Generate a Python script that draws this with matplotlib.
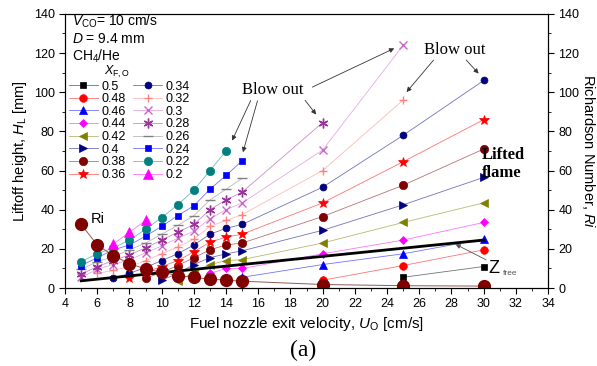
import matplotlib
matplotlib.use("Agg")
import matplotlib.pyplot as plt
from matplotlib.colors import to_rgb
from matplotlib.ticker import MultipleLocator

plt.rcParams['font.family'] = ['Liberation Sans', 'DejaVu Sans']
plt.rcParams['mathtext.fontset'] = 'custom'
plt.rcParams['mathtext.rm'] = 'Liberation Sans'
plt.rcParams['mathtext.it'] = 'Liberation Sans:italic'

# ------------------------------------------------------------
# Data (liftoff height H_L in mm)
# ------------------------------------------------------------
x_050 = [25, 30]
h_050 = [5.5, 11]
x_048 = [20, 25, 30]
h_048 = [4, 11.5, 19.5]
x_046 = [15, 20, 25, 30]
h_046 = [5.5, 12, 17.5, 25]
x_044 = [13, 14, 15, 20, 25, 30]
h_044 = [7.5, 10, 10, 17.5, 24.5, 33.5]
x_042 = [11, 12, 13, 14, 15, 20, 25, 30]
h_042 = [3.5, 8, 12, 14, 14.5, 23, 33.5, 43.5]
x_040 = [10, 11, 12, 13, 14, 15, 20, 25, 30]
h_040 = [4, 7.5, 12, 15.5, 17.5, 19, 29.5, 42.5, 56.5]
x_038 = [9, 10, 11, 12, 13, 14, 15, 20, 25, 30]
h_038 = [5, 8, 11.5, 15.5, 19.5, 22, 23, 36.5, 52.5, 71]
x_036 = [8, 9, 10, 11, 12, 13, 14, 15, 20, 25, 30]
h_036 = [5, 8, 11, 14, 18.5, 23.5, 26, 27.5, 43.5, 64.5, 86]
x_034 = [7, 8, 9, 10, 11, 12, 13, 14, 15, 20, 25, 30]
h_034 = [5, 7.5, 10.5, 14, 17.5, 22, 27.5, 30.5, 32.5, 51.5, 78, 106]
x_032 = [6, 7, 8, 9, 10, 11, 12, 13, 14, 15, 20, 25]
h_032 = [7.5, 9, 11, 14, 17.5, 21, 25, 31.5, 34.5, 37.5, 60, 96]
x_030 = [5, 6, 7, 8, 9, 10, 11, 12, 13, 14, 15, 20, 25]
h_030 = [5.5, 9.5, 12, 14.5, 18, 21.5, 25.5, 29, 35.5, 40, 43.5, 70.5, 124]
x_028 = [5, 6, 7, 8, 9, 10, 11, 12, 13, 14, 15, 20]
h_028 = [7, 11, 14, 17, 20.5, 24.5, 28.5, 32.5, 40, 45, 49, 84.5]
x_026 = [5, 6, 7, 8, 9, 10, 11, 12, 13, 14, 15]
h_026 = [9.5, 13.5, 16, 19.5, 23, 27.5, 32, 37, 45, 50.5, 56]
x_024 = [5, 6, 7, 8, 9, 10, 11, 12, 13, 14, 15]
h_024 = [11.5, 15.5, 19.5, 22, 26.5, 31.5, 37, 42, 50.5, 57.5, 65]
x_022 = [5, 6, 7, 8, 9, 10, 11, 12, 13, 14]
h_022 = [13.5, 17.5, 20.5, 24.5, 30, 36, 42.5, 50, 60, 70]
x_020 = [7, 8, 9]
h_020 = [22.5, 28.5, 34.5]

# Richardson number (right axis)
x_ri = [5, 6, 7, 8, 9, 10, 11, 12, 13, 14, 15, 20, 25, 30]
ri = [32.5, 22, 16.5, 12.5, 9.7, 8.1, 6.4, 5.4, 4.6, 4, 3.5, 1.8, 1.2, 1.0]

# Z_free line
x_zfree = [5, 30]
h_zfree = [3.7, 24.5]

labels = ["0.5", "0.48", "0.46", "0.44", "0.42", "0.4", "0.38", "0.36",
          "0.34", "0.32", "0.3", "0.28", "0.26", "0.24", "0.22", "0.2"]
xs = [x_050, x_048, x_046, x_044, x_042, x_040, x_038, x_036,
      x_034, x_032, x_030, x_028, x_026, x_024, x_022, x_020]
hs = [h_050, h_048, h_046, h_044, h_042, h_040, h_038, h_036,
      h_034, h_032, h_030, h_028, h_026, h_024, h_022, h_020]

# (color, marker, markersize)
styles = [
    ("#000000", "s", 5),
    ("#ff0000", "o", 5.5),
    ("#0000ff", "^", 6),
    ("#ff00ff", "D", 4.5),
    ("#808000", "<", 6),
    ("#000080", ">", 6),
    ("#800000", "o", 6),
    ("#ff0000", "*", 7),
    ("#000080", "o", 5),
    ("#ff8080", "+", 6),
    ("#cc66cc", "x", 6),
    ("#993399", (6, 2, 0), 7),
    ("#808080", "_", 7),
    ("#0000ff", "s", 5),
    ("#008080", "o", 6),
    ("#ff00ff", "^", 6.5),
]


def lighten(c, f=0.45):
    r, g, b = to_rgb(c)
    return (r + (1 - r) * f, g + (1 - g) * f, b + (1 - b) * f)


fig = plt.figure(figsize=(5.97, 3.66), dpi=100)
ax = fig.add_axes([0.109, 0.213, 0.809, 0.749])

for lab, x, h, (c, m, ms) in zip(labels, xs, hs, styles):
    thin = m in ("+", "x", "_") or isinstance(m, tuple)
    ax.plot(x, h, color=lighten(c), lw=0.6, marker=m, ms=ms,
            mfc=c, mec=c, mew=1.0 if thin else 0.5, label=lab)

ax.plot(x_zfree, h_zfree, color="black", lw=2.0)

ax.set_xlim(4, 34)
ax.set_ylim(0, 140)
ax.xaxis.set_major_locator(MultipleLocator(2))
ax.xaxis.set_minor_locator(MultipleLocator(1))
ax.yaxis.set_major_locator(MultipleLocator(20))
ax.yaxis.set_minor_locator(MultipleLocator(10))
ax.tick_params(which="both", direction="out", labelsize=9, top=False)
ax.tick_params(which="major", length=4)
ax.tick_params(which="minor", length=2.5)

ax.set_xlabel(r"Fuel nozzle exit velocity, $\mathit{U}_{\rm O}$ [cm/s]", fontsize=11, labelpad=3)
ax.set_ylabel(r"Liftoff height, $\mathit{H}_{\rm L}$ [mm]", fontsize=10.5, labelpad=3)

ax2 = ax.twinx()
ax2.plot(x_ri, ri, color="#8c5a5a", lw=0.7, marker="o", ms=8.5,
         mfc="#800000", mec="#800000")
ax2.set_ylim(0, 140)
ax2.yaxis.set_major_locator(MultipleLocator(20))
ax2.yaxis.set_minor_locator(MultipleLocator(10))
ax2.tick_params(which="both", direction="out", labelsize=9)
ax2.tick_params(which="major", length=4)
ax2.tick_params(which="minor", length=2.5)
ax2.set_ylabel(r"Richardson Number, $\mathit{Ri}$", fontsize=10.5,
               rotation=270, va="center")
ax2.yaxis.set_label_coords(1.083, 0.5)

# legend
leg = ax.legend(ncol=2, loc="upper left", bbox_to_anchor=(0.008, 0.757),
                frameon=False, fontsize=9, labelspacing=0.05,
                handlelength=2.3, handletextpad=0.3, columnspacing=0.6,
                borderpad=0, borderaxespad=0)

# texts
ax.text(4.45, 136, r"$\mathit{V}_{\rm CO}$= 10 cm/s", fontsize=10, va="center")
ax.text(4.45, 127, r"$\mathit{D}$ = 9.4 mm", fontsize=10, va="center")
ax.text(4.45, 118.5, r"CH$_4$/He", fontsize=10, va="center")
ax.text(7.2, 110.5, r"$\mathit{X}_{\rm F,O}$", fontsize=9, ha="center", va="center")

serif = ["Liberation Serif", "DejaVu Serif"]
arrow = dict(arrowstyle="-|>", color="#333333", lw=0.6, mutation_scale=7)

ax.text(16.9, 101, "Blow out", family=serif, fontsize=12, ha="center", va="center")
ax.annotate("", xy=(14.3, 74), xytext=(15.6, 97), arrowprops=arrow)
ax.annotate("", xy=(15.0, 68), xytext=(16.0, 97), arrowprops=arrow)
ax.annotate("", xy=(19.7, 87.5), xytext=(18.8, 97), arrowprops=arrow)
ax.annotate("", xy=(24.6, 123), xytext=(19.2, 102), arrowprops=arrow)

ax.text(28.2, 121.5, "Blow out", family=serif, fontsize=12, ha="center", va="center")
ax.annotate("", xy=(25.1, 99), xytext=(27.0, 117.5), arrowprops=arrow)
ax.annotate("", xy=(29.8, 108.5), xytext=(28.8, 117.5), arrowprops=arrow)

ax.text(29.9, 63.5, "Lifted\nflame", family=serif, fontsize=12, ha="left",
        va="center", linespacing=1.15, fontweight="bold")

ax.text(5.6, 35.3, "Ri", fontsize=10.5, ha="left", va="center")

ax.text(30.3, 10.0, "Z", fontsize=13, ha="left", va="center")
ax.text(31.2, 7.2, "free", fontsize=6, color="#555555", ha="left", va="center")
ax.annotate("", xy=(28.1, 23.0), xytext=(30.3, 13.8),
            arrowprops=dict(arrowstyle="-|>", color="#555555", lw=0.6, mutation_scale=7))

fig.text(0.507, 0.043, "(a)", family=serif, fontsize=17, ha="center", va="center")

fig.savefig("out.png", dpi=100)
